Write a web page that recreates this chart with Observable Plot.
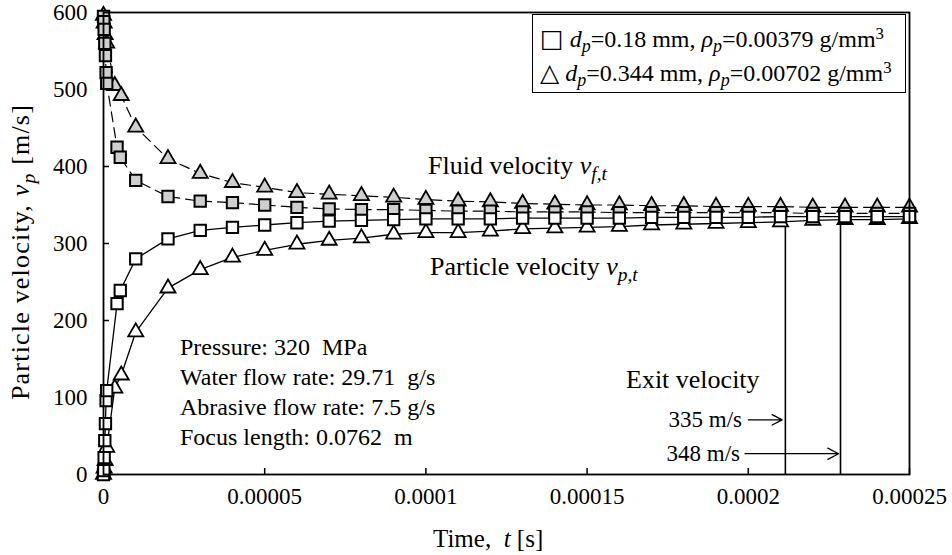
<!DOCTYPE html>
<html><head><meta charset="utf-8">
<script src="https://cdn.jsdelivr.net/npm/d3@7"></script>
<script src="https://cdn.jsdelivr.net/npm/@observablehq/plot@0.6"></script>
<style>
body{margin:0;background:#fff;}
#wrap{position:relative;width:952px;height:555px;font-family:"Liberation Serif","Times New Roman",serif;color:#000;}
.ann{position:absolute;white-space:nowrap;line-height:1;font-size:25px;}
.i{font-style:italic;}
.sub{font-style:italic;font-size:0.75em;position:relative;top:0.3em;}
.sup{font-size:0.7em;position:relative;top:-0.5em;}
.sym{font-family:"DejaVu Sans",sans-serif;font-size:25px;}
#legend{position:absolute;left:532px;top:14px;width:372px;height:77px;border:1.5px solid #000;background:#fff;}
</style></head><body><div id="wrap"></div>
<script>
// time axis (s)
const tMain = [0.00001,0.00002,0.00003,0.00004,0.00005,0.00006,0.00007,0.00008,0.00009,0.0001,
  0.00011,0.00012,0.00013,0.00014,0.00015,0.00016,0.00017,0.00018,0.00019,0.0002,
  0.00021,0.00022,0.00023,0.00024,0.00025];
const tEarlySq = [0,0.0000001,0.0000002,0.0000004,0.0000006,0.0000008,0.000001,0.0000042,0.0000052];
const tEarlyTri = [0,0.0000002,0.0000005,0.000001,0.0000035,0.0000055];

// d_p = 0.18 mm (squares)
const vParticleSqEarly = [0,5,22,44,66,96,109,222,239];
const vParticleSqMain = [280,306,317,321,324,327,329,330,331,332,332,332,333,333,333,333,334,334,334,334,335,335,335,335,335];
const vFluidSqEarly = [595,588,578,560,544,522,508,425,412];
const vFluidSqMain = [382,361,355,353,350,347,345,344,344,343,342,342,341,341,341,340,340,340,340,340,340,339,339,339,339];

// d_p = 0.344 mm (triangles)
const vParticleTriEarly = [0,8,18,35,112,129];
const vParticleTriMain = [185,242,266,282,291,299,304,307,312,314,314,316,319,320,321,322,324,325,326,327,328,330,331,331,332];
const vFluidTriEarly = [596,586,571,560,505,492];
const vFluidTriMain = [451,410,391,379,373,366,364,362,360,357,355,354,352,351,350,350,349,349,348,348,348,347,347,347,347];

// exit velocity markers
const exitT = [0.0002115,0.0002286];
const exitV = [335,348];
const arrowT1 = [0.0002,0.000199];
const arrowT2 = [0.0002105,0.000228];
const arrowV = [71,27];

const xTicks = [0,0.00005,0.0001,0.00015,0.0002,0.00025];
const xTickLabels = ["0","0.00005","0.0001","0.00015","0.0002","0.00025"];
const yTicks = [0,100,200,300,400,500,600];
const yTickLabels = ["0","100","200","300","400","500","600"];

const rows = (t, v) => t.map((d, i) => ({t: d, v: v[i]}));
const particleSq = rows([...tEarlySq, ...tMain], [...vParticleSqEarly, ...vParticleSqMain]);
const fluidSq = rows([...tEarlySq, ...tMain], [...vFluidSqEarly, ...vFluidSqMain]);
const particleTri = rows([...tEarlyTri, ...tMain], [...vParticleTriEarly, ...vParticleTriMain]);
const fluidTri = rows([...tEarlyTri, ...tMain], [...vFluidTriEarly, ...vFluidTriMain]);
const exits = exitT.map((t, i) => ({t, v: exitV[i]}));
const arrows = arrowT1.map((t, i) => ({t1: t, t2: arrowT2[i], v: arrowV[i]}));

const chart = Plot.plot({
  width: 952, height: 555,
  marginLeft: 103, marginRight: 43, marginTop: 12, marginBottom: 81,
  style: {fontFamily: "Liberation Serif, serif", fontSize: "23px", color: "black", background: "white"},
  x: {domain: [0, 0.00025]},
  y: {domain: [0, 600]},
  marks: [
    Plot.axisX({ticks: xTicks, tickFormat: d => xTickLabels[xTicks.indexOf(d)], tickSize: -6, tickPadding: 19, label: null, strokeWidth: 1.5}),
    Plot.axisY({ticks: yTicks, tickFormat: d => yTickLabels[yTicks.indexOf(d)], tickSize: -6, tickPadding: 22, label: null, strokeWidth: 1.5}),
    Plot.ruleX(exits, {x: "t", y1: 0, y2: "v", stroke: "black", strokeWidth: 1.6}),
    Plot.arrow(arrows, {x1: "t1", x2: "t2", y1: "v", y2: "v", stroke: "black", strokeWidth: 1.3, headLength: 14, headAngle: 55}),
    Plot.line(fluidSq, {x: "t", y: "v", stroke: "black", strokeWidth: 1.2, strokeDasharray: "10,6"}),
    Plot.line(fluidTri, {x: "t", y: "v", stroke: "black", strokeWidth: 1.2, strokeDasharray: "10,6"}),
    Plot.line(particleSq, {x: "t", y: "v", stroke: "black", strokeWidth: 1.3}),
    Plot.line(particleTri, {x: "t", y: "v", stroke: "black", strokeWidth: 1.3}),
    Plot.dot(fluidTri, {x: "t", y: "v", symbol: "triangle", r: 5.6, fill: "#cfcfcf", stroke: "black", strokeWidth: 1.8}),
    Plot.dot(particleTri, {x: "t", y: "v", symbol: "triangle", r: 5.6, fill: "white", stroke: "black", strokeWidth: 1.8}),
    Plot.dot(fluidSq, {x: "t", y: "v", symbol: "square", r: 6.4, fill: "#cfcfcf", stroke: "black", strokeWidth: 2}),
    Plot.dot(particleSq, {x: "t", y: "v", symbol: "square", r: 6.4, fill: "white", stroke: "black", strokeWidth: 2}),
    Plot.frame({stroke: "black", strokeWidth: 1.8})
  ]
});

const wrap = document.getElementById("wrap");
wrap.appendChild(chart);

const anns = [
  {x: 21, y: 252, rot: true, size: 26, ls: 1.2, html: 'Particle velocity, <span class="i">v</span><span class="sub">p</span> [m/s]'},
  {x: 433, y: 538, size: 25, html: 'Time, &nbsp;<span class="i">t</span> [s]'},
  {x: 428, y: 166, size: 26, html: 'Fluid velocity <span class="i">v</span><span class="sub">f,t</span>'},
  {x: 430, y: 267, size: 26, html: 'Particle velocity <span class="i">v</span><span class="sub">p,t</span>'},
  {x: 180, y: 347, size: 24, html: 'Pressure: 320 &nbsp;MPa'},
  {x: 180, y: 377, size: 24, html: 'Water flow rate: 29.71 &nbsp;g/s'},
  {x: 180, y: 407, size: 24, html: 'Abrasive flow rate: 7.5 g/s'},
  {x: 180, y: 437, size: 24, html: 'Focus length: 0.0762 &nbsp;m'},
  {x: 626, y: 380, size: 26, html: 'Exit velocity'},
  {x: 742, y: 419, right: true, size: 23, html: '335 m/s'},
  {x: 740, y: 453, right: true, size: 23, html: '348 m/s'}
];
for (const a of anns) {
  const d = document.createElement("div");
  d.className = "ann";
  d.innerHTML = a.html;
  d.style.fontSize = a.size + "px";
  if (a.ls) d.style.letterSpacing = a.ls + "px";
  if (a.rot) {
    d.style.left = a.x + "px"; d.style.top = a.y + "px";
    d.style.transform = "translate(-50%,-50%) rotate(-90deg)";
  } else if (a.right) {
    d.style.right = (952 - a.x) + "px"; d.style.top = (a.y - a.size / 2) + "px";
  } else {
    d.style.left = a.x + "px"; d.style.top = (a.y - a.size / 2) + "px";
  }
  wrap.appendChild(d);
}

const legend = document.createElement("div");
legend.id = "legend";
legend.innerHTML =
  '<div class="ann" style="left:7px;top:11px;font-size:24px"><span class="sym">□</span>&nbsp;<span class="i">d</span><span class="sub">p</span>=0.18 mm, <span class="i">ρ</span><span class="sub">p</span>=0.00379 g/mm<span class="sup">3</span></div>' +
  '<div class="ann" style="left:7px;top:45px;font-size:24px"><span class="sym">△</span> <span class="i">d</span><span class="sub">p</span>=0.344 mm, <span class="i">ρ</span><span class="sub">p</span>=0.00702 g/mm<span class="sup">3</span></div>';
wrap.appendChild(legend);
</script></body></html>
